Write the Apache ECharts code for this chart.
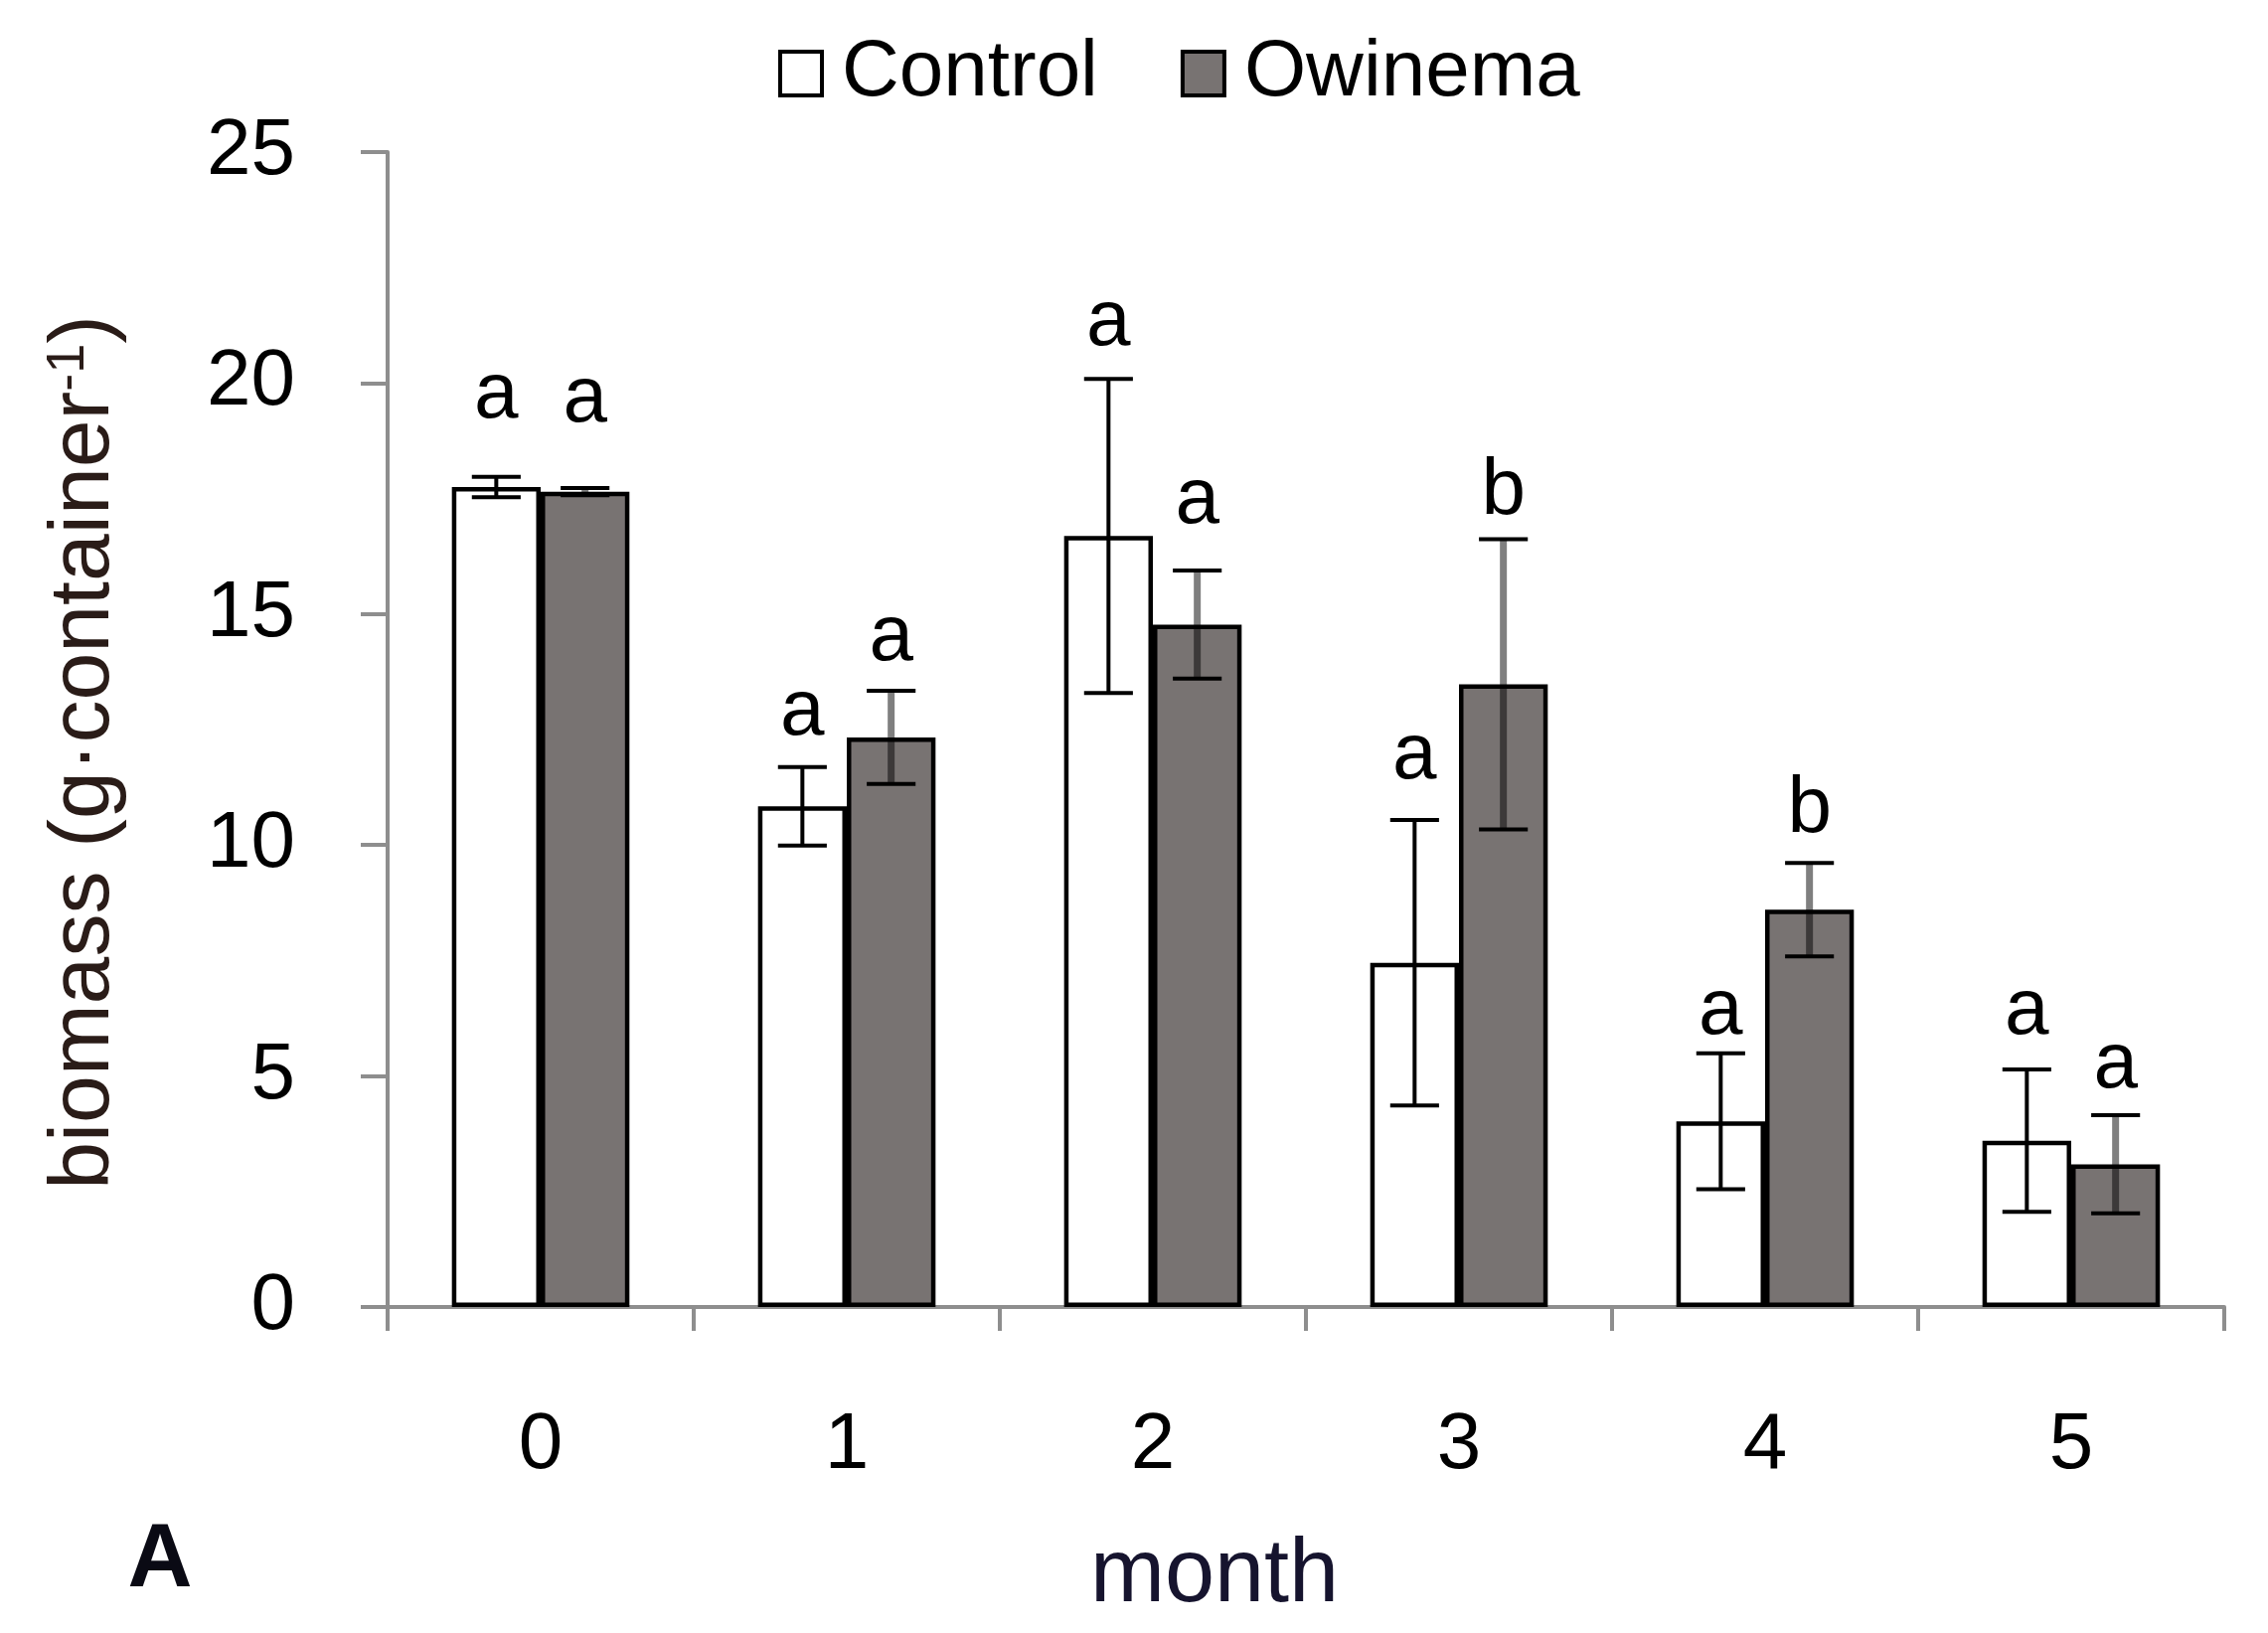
<!DOCTYPE html>
<html>
<head>
<meta charset="utf-8">
<script src="https://cdn.jsdelivr.net/npm/echarts@6.0.0/dist/echarts.min.js"></script>
<style>
  html, body { margin: 0; padding: 0; background: #ffffff; }
  #chart { width: 2282px; height: 1643px; }
</style>
</head>
<body>
<div id="chart"></div>
<script>
// ---------------- data ----------------
const months = ['0', '1', '2', '3', '4', '5'];
const yTicks = [0, 5, 10, 15, 20, 25];

const controlMean = [17.75, 10.84, 16.69, 7.45, 4.02, 3.60];
const controlErr  = [0.22, 0.85, 3.40, 3.09, 1.47, 1.54];
const owinemaMean = [17.65, 12.33, 14.77, 13.48, 8.60, 3.09];
const owinemaErr  = [0.08, 1.01, 1.17, 3.14, 1.01, 1.06];

const controlLetters = ['a', 'a', 'a', 'a', 'a', 'a'];
const owinemaLetters = ['a', 'a', 'a', 'b', 'b', 'a'];
// baseline height (in biomass units) of each significance letter
const controlLetterAt = [19.12, 12.26, 20.69, 11.31, 5.78, 5.78];
const owinemaLetterAt = [19.04, 13.87, 16.84, 17.05, 10.15, 4.62];

// ---------------- styling ----------------
const FONT = '"Liberation Sans", Arial, Helvetica, sans-serif';
const AXIS_GRAY = '#8e8e8e';
const BAR_GRAY = '#787372';
const BAR_FRACTION = 0.29;
const LETTER_SIZE = 80;

const chart = echarts.init(document.getElementById('chart'), null, { renderer: 'canvas' });

function errorSeries(name, means, errs, letters, letterAt, side, stemColor, stemWidth) {
  return {
    type: 'custom',
    name: name + ' error',
    silent: true,
    z: 5,
    data: means.map((m, i) => [i, m]),
    renderItem: function (params, api) {
      const i = params.dataIndex;
      const band = api.size([1, 0])[0];
      const bw = band * BAR_FRACTION;
      const cx = api.coord([i, 0])[0] + side * bw / 2;
      const yTop = api.coord([i, means[i] + errs[i]])[1];
      const yBot = api.coord([i, means[i] - errs[i]])[1];
      const capHalf = bw * 0.275;
      const yLetter = api.coord([i, letterAt[i]])[1];
      return {
        type: 'group',
        children: [
          { type: 'line', shape: { x1: cx, y1: yTop, x2: cx, y2: yBot },
            style: { stroke: stemColor, lineWidth: stemWidth } },
          { type: 'line', shape: { x1: cx - capHalf, y1: yTop, x2: cx + capHalf, y2: yTop },
            style: { stroke: '#000', lineWidth: 4 } },
          { type: 'line', shape: { x1: cx - capHalf, y1: yBot, x2: cx + capHalf, y2: yBot },
            style: { stroke: '#000', lineWidth: 4 } },
          { type: 'text', x: cx, y: yLetter - 0.35 * LETTER_SIZE,
            style: { text: letters[i], fill: '#000', align: 'center', verticalAlign: 'middle',
                     font: LETTER_SIZE + 'px ' + FONT } }
        ]
      };
    }
  };
}

const option = {
  backgroundColor: '#ffffff',
  animation: false,
  textStyle: { fontFamily: FONT },
  legend: {
    data: ['Control', 'Owinema'],
    left: 778,
    top: 29,
    itemWidth: 42,
    itemHeight: 44,
    itemGap: 83,
    icon: 'rect',
    itemStyle: { borderColor: '#000', borderWidth: 4 },
    textStyle: { fontFamily: FONT, fontSize: 80, lineHeight: 80, color: '#000', padding: [0, 0, 0, 15] }
  },
  grid: { left: 390, right: 44, top: 153, bottom: 328, containLabel: false },
  xAxis: {
    type: 'category',
    data: months,
    boundaryGap: true,
    axisLine: { lineStyle: { color: AXIS_GRAY, width: 4 } },
    axisTick: { show: true, length: 24, lineStyle: { color: AXIS_GRAY, width: 4 } },
    axisLabel: { fontFamily: FONT, fontSize: 80, lineHeight: 80, color: '#000', margin: 100 },
    splitLine: { show: false }
  },
  yAxis: {
    type: 'value',
    min: yTicks[0],
    max: yTicks[yTicks.length - 1],
    interval: 5,
    axisLine: { show: true, lineStyle: { color: AXIS_GRAY, width: 4 } },
    axisTick: { show: true, length: 27, lineStyle: { color: AXIS_GRAY, width: 4 } },
    axisLabel: { fontFamily: FONT, fontSize: 80, color: '#000', margin: 93 },
    splitLine: { show: false }
  },
  graphic: [
    {
      type: 'text', x: 85, y: 757, rotation: Math.PI / 2,
      style: {
        text: '{m|biomass (g·container}{s|-1}{m|)}',
        align: 'center', verticalAlign: 'middle',
        rich: {
          m: { fontFamily: FONT, fontSize: 86, lineHeight: 86, fill: '#2a1c18', color: '#2a1c18' },
          s: { fontFamily: FONT, fontSize: 54, lineHeight: 54, verticalAlign: 'top', fill: '#2a1c18', color: '#2a1c18' }
        }
      }
    },
    {
      type: 'text', x: 1222, y: 1586,
      style: { text: 'month', font: '90px ' + FONT, fill: '#16142e', align: 'center', verticalAlign: 'middle' }
    },
    {
      type: 'text', x: 161, y: 1571,
      style: { text: 'A', font: 'bold 90px ' + FONT, fill: '#0a0a14', align: 'center', verticalAlign: 'middle' }
    }
  ],
  series: [
    {
      name: 'Control', type: 'bar', data: controlMean,
      barWidth: (BAR_FRACTION * 100) + '%', barGap: '0%',
      itemStyle: { color: '#ffffff', borderColor: '#000', borderWidth: 4.5 },
      z: 2
    },
    {
      name: 'Owinema', type: 'bar', data: owinemaMean,
      barWidth: (BAR_FRACTION * 100) + '%', barGap: '0%',
      itemStyle: { color: BAR_GRAY, borderColor: '#000', borderWidth: 4.5 },
      z: 2
    },
    errorSeries('Control', controlMean, controlErr, controlLetters, controlLetterAt, -1, '#000', 4),
    errorSeries('Owinema', owinemaMean, owinemaErr, owinemaLetters, owinemaLetterAt, 1, 'rgba(0,0,0,0.5)', 7)
  ]
};

chart.setOption(option);
</script>
</body>
</html>
